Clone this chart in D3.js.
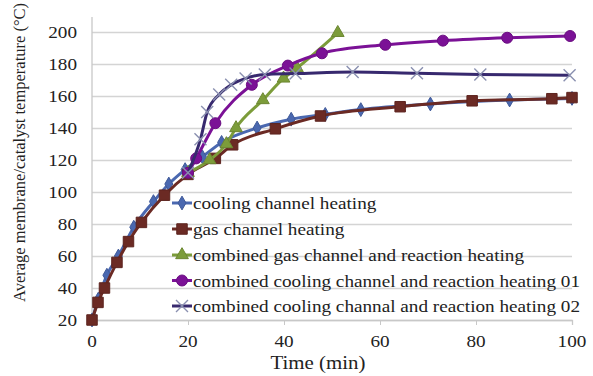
<!DOCTYPE html>
<html>
<head>
<meta charset="utf-8">
<script src="https://cdn.jsdelivr.net/npm/d3@7"></script>
<style>
  body { margin: 0; background: #fff; }
  text { font-family: "Liberation Serif", "Times New Roman", serif; fill: #222; }
</style>
</head>
<body>
<div id="chart"></div>
<script>
//Series names (legend order)
const names = [
  "cooling channel heating",
  "gas channel heating",
  "combined gas channel and reaction heating",
  "combined cooling channel and reaction heating 01",
  "combined cooling channal and reaction heating 02"
];

//time (min) and temperature (C) for every series
const coolTime = [0, 1.3, 3.1, 5.5, 8.7, 12.8, 16, 19.4, 23, 27, 34.4, 41.5, 48.6, 56, 70.5, 87, 100];
const coolTemp = [20, 33, 48, 60, 78, 94, 105, 114, 122, 131, 140, 145.5, 148.5, 151.5, 155, 157.5, 158.5];

const gasTime = [0, 1.25, 2.6, 5.2, 7.6, 10.3, 15.1, 20, 25.7, 29.3, 38.2, 47.6, 64.2, 79.2, 95.8, 100];
const gasTemp = [20, 31, 40, 56, 69, 81, 98, 111, 121, 129.5, 139.5, 147.5, 153.3, 157, 158.3, 159];

const combGasTime = [20, 24.5, 28, 30, 35.6, 39.9, 42.7, 51.2];
const combGasTemp = [112, 120, 130, 140, 157.5, 171, 177.5, 199.5];

const comb01Time = [20, 21.7, 25.7, 33.3, 40.8, 47.9, 61.1, 73.1, 86.5, 99.6];
const comb01Temp = [112, 121, 143, 167, 179, 186.7, 192, 194.6, 196.4, 197.5];

const comb02Time = [20, 22.6, 24, 26.5, 29, 32, 36, 42.4, 54.3, 67.7, 80.9, 99.5];
const comb02Temp = [112, 133, 150, 161, 167, 171, 173.5, 174, 175, 174.2, 173.5, 173];

const xTicks = [0, 20, 40, 60, 80, 100];
const yTicks = [20, 40, 60, 80, 100, 120, 140, 160, 180, 200];

//Look of each series
const colors  = ["#4a68b0", "#6b2a24", "#7c9c3a", "#7b1196", "#37296e"];
const markers = ["diamond", "square", "triangle", "circle", "cross"];

const series = [
  [coolTime, coolTemp], [gasTime, gasTemp], [combGasTime, combGasTemp],
  [comb01Time, comb01Temp], [comb02Time, comb02Temp]
].map((s, i) => ({
  name: names[i], color: colors[i], marker: markers[i],
  values: s[0].map((t, j) => [t, s[1][j]])
}));

//Canvas
const w = 593;
const h = 376;
const sx = 1.13; // the original picture is stretched sideways a little

const xScale = d3.scaleLinear().domain([0, 100]).range([92, 572]);
const yScale = d3.scaleLinear().domain([20, 200]).range([320, 32]);

const svg = d3.select("#chart").append("svg")
              .attr("width", w)
              .attr("height", h);

//Horizontal gridlines
svg.append("g")
   .attr("transform", "translate(" + xScale(0) + ",0)")
   .call(d3.axisLeft(yScale).tickValues(yTicks).tickSize(-(xScale(100) - xScale(0))).tickFormat(""))
   .call(g => g.select(".domain").remove())
   .call(g => g.selectAll("line").attr("stroke", "#d4d4d4").attr("stroke-width", 1.3));

//Y axis line and labels
svg.append("line")
   .attr("x1", xScale(0)).attr("x2", xScale(0))
   .attr("y1", 17).attr("y2", yScale(20))
   .attr("stroke", "#c8c8c8").attr("stroke-width", 1.3);

svg.append("g")
   .selectAll("text")
   .data(yTicks)
   .enter()
   .append("text")
   .attr("transform", d => "translate(77," + (yScale(d) + 6) + ") scale(" + sx + ",1)")
   .attr("text-anchor", "end")
   .style("font-size", "17px")
   .text(d => d);

//X axis with small ticks
const xAxis = svg.append("g")
   .attr("transform", "translate(0," + yScale(20) + ")")
   .call(d3.axisBottom(xScale).tickValues(xTicks).tickSize(5).tickFormat(""));
xAxis.select(".domain").attr("stroke", "#c8c8c8").attr("stroke-width", 1.3);
xAxis.selectAll("line").attr("stroke", "#c8c8c8");

svg.append("g")
   .selectAll("text")
   .data(xTicks)
   .enter()
   .append("text")
   .attr("transform", d => "translate(" + xScale(d) + ",347) scale(" + sx + ",1)")
   .attr("text-anchor", "middle")
   .style("font-size", "17px")
   .text(d => d);

//Axis titles
svg.append("text")
   .attr("transform", "translate(318,369) scale(" + sx + ",1)")
   .attr("text-anchor", "middle")
   .style("font-size", "18.5px")
   .text("Time (min)");

svg.append("text")
   .attr("transform", "translate(25,302) rotate(-90)")
   .attr("text-anchor", "start")
   .style("font-size", "16.5px")
   .text("Average membrane/catalyst temperature (°C)");

//Marker drawing
function drawMarker(sel, type, color, size) {
  if (type === "cross") {
    const s = size * 0.6;
    sel.append("path")
       .attr("d", "M" + (-s) + "," + (-s) + "L" + s + "," + s + "M" + (-s) + "," + s + "L" + s + "," + (-s))
       .attr("stroke", "#8a90b0").attr("stroke-width", 1.4).attr("fill", "none");
    return;
  }
  const sym = {
    diamond: d3.symbolDiamond,
    square: d3.symbolSquare,
    triangle: d3.symbolTriangle,
    circle: d3.symbolCircle
  }[type];
  const area = {diamond: 55, square: 110, triangle: 70, circle: 95}[type];
  sel.append("path")
     .attr("d", d3.symbol().type(sym).size(area * size / 10)())
     .attr("fill", color)
     .attr("stroke", d3.color(color).darker(0.4))
     .attr("stroke-width", 1);
}

const line = d3.line()
               .x(d => xScale(d[0]))
               .y(d => yScale(d[1]))
               .curve(d3.curveMonotoneX);

//Lines and markers
series.forEach(s => {
  svg.append("path")
     .datum(s.values)
     .attr("d", line)
     .attr("fill", "none")
     .attr("stroke", s.color)
     .attr("stroke-width", 3);

  svg.append("g")
     .selectAll("g")
     .data(s.values)
     .enter()
     .append("g")
     .attr("transform", d => "translate(" + xScale(d[0]) + "," + yScale(d[1]) + ")")
     .each(function() { drawMarker(d3.select(this), s.marker, s.color, 10); });
});

//Legend inside the plot
const legendY = [203, 229, 255, 280.5, 306];
const legend = svg.append("g")
   .selectAll("g")
   .data(series)
   .enter()
   .append("g")
   .attr("transform", (d, i) => "translate(172," + legendY[i] + ")");

legend.append("line")
      .attr("x1", 0).attr("x2", 20)
      .attr("stroke", d => d.color)
      .attr("stroke-width", 3);

legend.each(function(d) {
  const m = d3.select(this).append("g").attr("transform", "translate(10,0)");
  drawMarker(m, d.marker, d.color, 10);
});

legend.append("text")
      .attr("transform", "translate(21,6) scale(" + sx + ",1)")
      .style("font-size", "17px")
      .text(d => d.name);
</script>
</body>
</html>
